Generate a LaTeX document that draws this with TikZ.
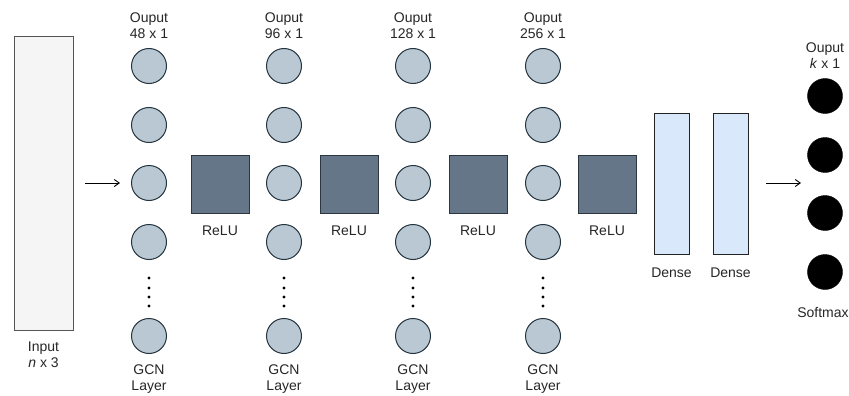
\documentclass[tikz,border=0pt]{standalone}
\usepackage{fontspec}
\setmainfont{Liberation Sans}
\usetikzlibrary{arrows.meta}
\definecolor{inputfill}{HTML}{F5F5F5}
\definecolor{inputdraw}{HTML}{555555}
\definecolor{neuronfill}{HTML}{BAC8D3}
\definecolor{neurondraw}{HTML}{23343F}
\definecolor{relufill}{HTML}{647687}
\definecolor{reludraw}{HTML}{2B3640}
\definecolor{densefill}{HTML}{DAE8FC}
\definecolor{densedraw}{HTML}{222222}
\begin{document}
\begin{tikzpicture}[x=1pt,y=-1pt,
  lbl/.style={font=\fontsize{14}{16}\selectfont, align=center, text=black!85, inner sep=0pt},
  neuron/.style={circle, draw=neurondraw, line width=1pt, fill=neuronfill, minimum size=35pt, inner sep=0pt},
  outneuron/.style={circle, draw=black, fill=black, minimum size=35pt, inner sep=0pt},
  relubox/.style={draw=reludraw, line width=1pt, fill=relufill, minimum size=58pt, inner sep=0pt},
  densebox/.style={draw=densedraw, line width=0.9pt, fill=densefill, minimum width=35pt, minimum height=141pt, inner sep=0pt},
  inbox/.style={draw=inputdraw, line width=0.9pt, fill=inputfill, minimum width=59pt, minimum height=294pt, inner sep=0pt},
  dotmark/.style={circle, fill=black, minimum size=3.2pt, inner sep=0pt},
  flow/.style={-{Straight Barb[length=5pt,width=7pt]}, line width=0.9pt}]
\useasboundingbox (0,0) rectangle (849,396);

% input block
\node[inbox] (input) at (43.5,183) {};
\node[lbl] (inlbl) at (43.5,355) {Input\\\textit{n} x 3};

% GCN layer columns
\foreach \i/\x/\dim in {1/149/48, 2/284/96, 3/413/128, 4/543/256} {
  \node[lbl] (out\i) at (\x,26) {Ouput\\\dim\ x 1};
  \foreach \j/\y in {1/66, 2/125, 3/183, 4/242, 5/336}
    \node[neuron] (n\i-\j) at (\x,\y) {};
  \foreach \k/\y in {1/278, 2/288, 3/297, 4/306}
    \node[dotmark] (d\i-\k) at (\x,\y) {};
  \node[lbl] (gcn\i) at (\x,379) {GCN\\Layer};
}

% ReLU activations
\foreach \i/\x in {1/220, 2/349, 3/478, 4/607} {
  \node[relubox] (relu\i) at (\x,184) {};
  \node[lbl] (relulbl\i) at (\x,231) {ReLU};
}

% dense layers
\node[densebox] (dense1) at (671.5,183.5) {};
\node[densebox] (dense2) at (730.5,183.5) {};
\node[lbl] (denselbl1) at (671.5,273) {Dense};
\node[lbl] (denselbl2) at (730.5,273) {Dense};

% softmax output
\node[lbl] (outk) at (825,56) {Ouput\\\textit{k} x 1};
\foreach \j/\y in {1/96, 2/155, 3/213, 4/272}
  \node[outneuron] (o\j) at (825,\y) {};
\node[lbl] (softlbl) at (823,313) {Softmax};

% connectors
\coordinate (a1s) at (85,183);
\draw[flow] (a1s) -- ([xshift=-11pt]n1-3.west);
\coordinate (a2s) at (766,183);
\coordinate (a2e) at (801,183);
\draw[flow] (a2s) -- (a2e);
\end{tikzpicture}
\end{document}
